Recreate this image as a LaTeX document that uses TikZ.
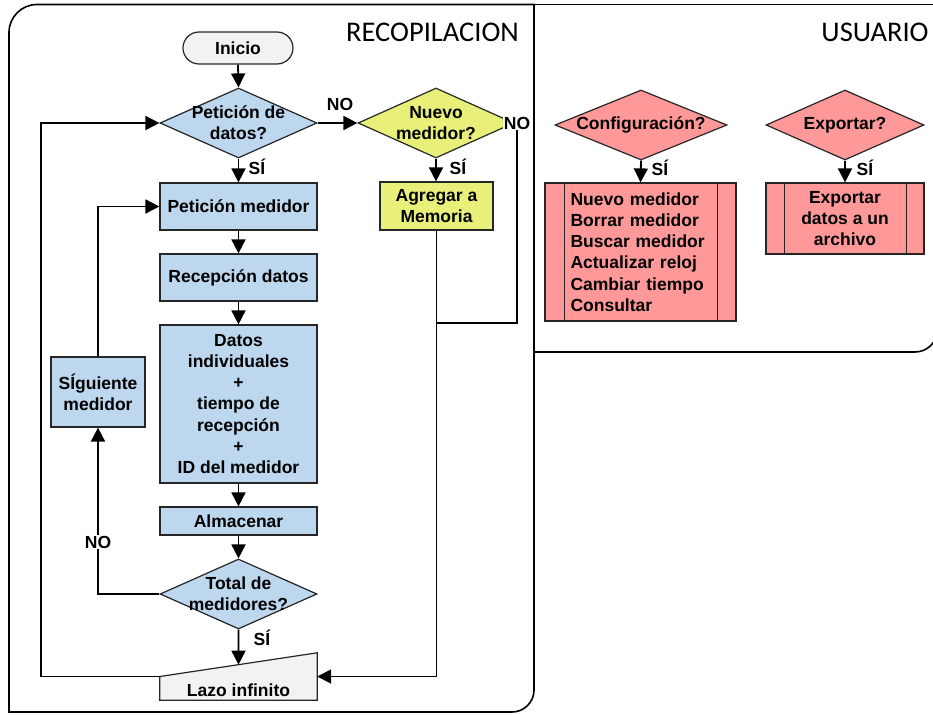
\documentclass[tikz,border=0pt]{standalone}
\usepackage{fontspec}
\setmainfont{Liberation Sans}
\newfontfamily\titlefont{Carlito}
\usetikzlibrary{arrows.meta,shapes.geometric,calc,backgrounds}
\definecolor{procblue}{RGB}{189,215,238}
\definecolor{newyellow}{RGB}{232,240,122}
\definecolor{usersalmon}{RGB}{255,153,153}
\definecolor{termgray}{RGB}{242,242,242}
\definecolor{edgegray}{RGB}{38,38,38}
\newcommand{\flowfont}{\fontsize{17.5}{21.3}\selectfont\bfseries}
\begin{document}
\begin{tikzpicture}[x=1pt,y=1pt,
  font=\flowfont,
  shape outline/.style={draw=edgegray, line width=1.2pt},
  proc/.style={shape outline, rectangle, fill=#1, inner sep=0pt, align=center},
  decision/.style={shape outline, diamond, fill=#1, inner sep=0pt},
  dtext/.style={align=center, inner sep=0pt, font=\flowfont},
  flow/.style={line width=1.8pt, draw=black},
  arr/.style={flow, -{Triangle[length=14pt,width=14pt]}},
  tag/.style={inner sep=1pt, font=\flowfont},
  lane/.style={line width=1.6pt, draw=black},
  lanetitle/.style={font=\titlefont\fontsize{28.5}{32}\selectfont, inner sep=0pt}
]
\useasboundingbox (0,0) rectangle (933,-714);
\clip (0,0) rectangle (933,-714);

% swimlanes
\draw[lane] (9,-712) -- (9,-32.5) arc[start angle=180,end angle=90,radius=28pt]
  -- (534,-4.5) -- (534,-690) arc[start angle=0,end angle=-90,radius=22pt] -- cycle;
\draw[lane] (534,-4.5) -- (945,-4.5);
\draw[lane] (534,-352) -- (915,-352) arc[start angle=-90,end angle=0,radius=22.5pt] -- (937.5,0);
\node[lanetitle] (t1) at (432.5,-32) {RECOPILACION};
\node[lanetitle] (t2) at (875,-32) {USUARIO};

% data collection lane
\node[proc=termgray, rounded corners=16pt, minimum width=110pt, minimum height=32pt] (ini) at (238,-48) {Inicio};
\node[decision=procblue, minimum width=157pt, minimum height=70pt,
  label={[dtext]center:{Petición de\\datos?}}] (d1) at (238.5,-123) {};
\node[decision=newyellow, minimum width=156pt, minimum height=70pt,
  label={[dtext]center:{Nuevo\\medidor?}}] (d2) at (436,-123) {};
\node[proc=procblue, minimum width=157pt, minimum height=47pt] (pm) at (238.5,-206.5) {Petición medidor};
\node[proc=newyellow, minimum width=113pt, minimum height=48pt] (agr) at (436.5,-206) {Agregar a\\Memoria};
\node[proc=procblue, minimum width=157pt, minimum height=47pt] (rec) at (238.5,-277.5) {Recepción datos};
\node[proc=procblue, minimum width=157pt, minimum height=158pt] (dat) at (238.5,-404)
  {Datos\\individuales\\+\\tiempo de\\recepción\\+\\ID del medidor};
\node[proc=procblue, minimum width=157pt, minimum height=28pt] (alm) at (238.5,-521) {Almacenar};
\node[decision=procblue, minimum width=157pt, minimum height=70pt,
  label={[dtext]center:{Total de\\medidores?}}] (d3) at (238.5,-594) {};
\node[proc=procblue, minimum width=94pt, minimum height=70pt] (sig) at (98,-392) {SÍguiente\\medidor};
\node[minimum width=157pt, minimum height=47pt, inner sep=0pt,
  label={[dtext,yshift=-13.5pt]center:Lazo infinito}] (lazo) at (238.5,-676.5) {};
\begin{scope}[on background layer]
  \draw[shape outline, fill=termgray] (lazo.south west) -- (lazo.south east)
    -- (lazo.north east) -- (lazo.west) -- cycle;
\end{scope}
\coordinate (lazotop) at ($(lazo.west)!0.5!(lazo.north east)$);
\coordinate (loopc) at (41,-123);
\coordinate (nojoin) at (436.5,-323);

% user lane
\node[decision=usersalmon, minimum width=172pt, minimum height=70pt,
  label={[dtext]center:{Configuración?}}] (cfgd) at (641,-125) {};
\node[proc=usersalmon, minimum width=191pt, minimum height=138pt, align=left, text width=140pt] (cfg) at (640.5,-252)
  {Nuevo medidor\\Borrar medidor\\Buscar medidor\\Actualizar reloj\\Cambiar tiempo\\Consultar};
\draw[shape outline] ([xshift=20pt]cfg.north west) -- ([xshift=20pt]cfg.south west);
\draw[shape outline] ([xshift=-19pt]cfg.north east) -- ([xshift=-19pt]cfg.south east);
\node[decision=usersalmon, minimum width=158pt, minimum height=70pt,
  label={[dtext]center:{Exportar?}}] (expd) at (845,-125) {};
\node[proc=usersalmon, minimum width=158pt, minimum height=71pt] (exp) at (845,-218.5) {Exportar\\datos a un\\archivo};
\draw[shape outline] ([xshift=19pt]exp.north west) -- ([xshift=19pt]exp.south west);
\draw[shape outline] ([xshift=-18pt]exp.north east) -- ([xshift=-18pt]exp.south east);

% branch labels
\node[tag] (no1) at (340,-104) {NO};
\node[tag] (si1) at (257,-167) {SÍ};
\node[tag] (si2) at (458,-167) {SÍ};
\node[tag, fill=white] (no2) at (517,-123) {NO};
\node[tag] (si3) at (262,-638) {SÍ};
\node[tag] (si4) at (660,-168) {SÍ};
\node[tag] (si5) at (865,-168) {SÍ};

% connectors
\draw[arr] (ini.south) -- (d1.north);
\draw[arr] (d1.east) -- (d2.west);
\draw[arr] (d1.south) -- (pm.north);
\draw[arr] (d2.south) -- (d2.south |- agr.north);
\draw[arr] (pm.south) -- (rec.north);
\draw[arr] (rec.south) -- (dat.north);
\draw[arr] (dat.south) -- (alm.north);
\draw[arr] (alm.south) -- (d3.north);
\draw[arr] (d3.south) -- (lazotop);
\draw[arr] (d3.west) -| (sig.south);
\draw[arr] (sig.north) |- (pm.west);
\draw[arr] (lazo.west) -| (loopc) -- (d1.west);
\draw[arr] (agr.south) |- (lazo.east);
\draw[flow] (no2.south) |- (nojoin);
\draw[arr] (cfgd.south) -- (cfg.north);
\draw[arr] (expd.south) -- (exp.north);
\node[tag, fill=white] (no3) at (98,-542) {NO};
\end{tikzpicture}
\end{document}
